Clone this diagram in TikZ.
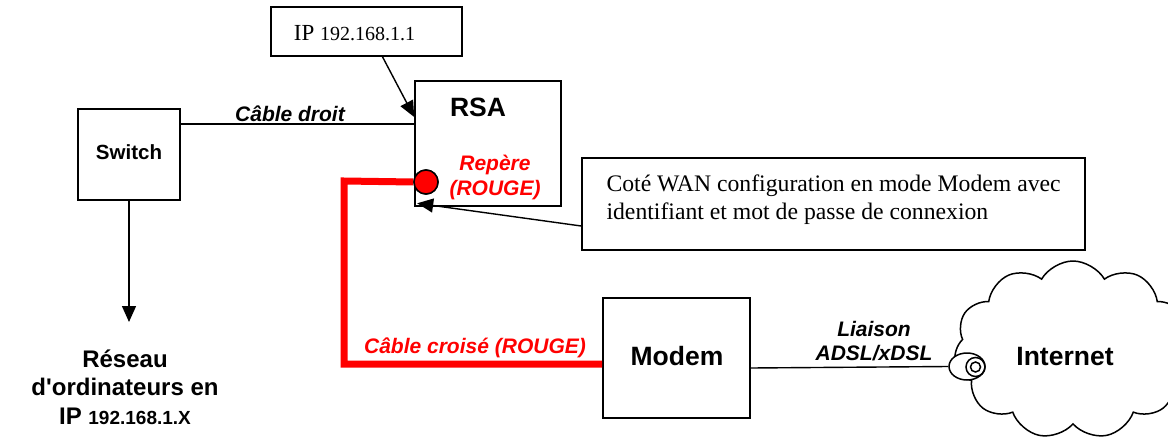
\documentclass[tikz,border=0pt]{standalone}
\usepackage{fontspec}
\setmainfont{Liberation Serif}
\setsansfont{Liberation Sans}
\usetikzlibrary{shapes.symbols,shapes.geometric,arrows.meta}

\definecolor{cable}{RGB}{255,0,0}

\tikzset{
  box/.style={draw, line width=1.6pt, fill=white, inner sep=0pt},
  arr/.style={line width=1.4pt, -{Triangle[length=16pt,width=14pt]}},
  wire/.style={line width=1.4pt},
  redwire/.style={draw=cable, line width=7pt},
  devname/.style={font=\sffamily\bfseries\fontsize{26.5}{30}\selectfont},
  linklabel/.style={font=\sffamily\bfseries\itshape\fontsize{21}{24.5}\selectfont, align=center},
  redlabel/.style={linklabel, text=cable},
  note/.style={font=\rmfamily\fontsize{23.7}{28}\selectfont, align=left}
}

\begin{document}
\begin{tikzpicture}[x=1pt,y=-1pt]
\useasboundingbox (0,0) rectangle (1168,439);

% equipment boxes
\node[box, minimum width=191pt, minimum height=49pt] (ip) at (366.5,31.5) {};
\node[font=\rmfamily, anchor=base] (iptext) at (354.5,40)
  {\fontsize{23}{26}\selectfont IP \fontsize{20}{24}\selectfont 192.168.1.1};
\node[box, minimum width=146pt, minimum height=125pt] (rsa) at (488,143.5) {};
\node[devname] (rsaname) at (478,107) {RSA};
\node[box, minimum width=102pt, minimum height=91pt] (switch) at (129,154.5) {};
\node[font=\sffamily\bfseries\fontsize{20.5}{24}\selectfont] (swname) at (129,152) {Switch};
\node[box, minimum width=503pt, minimum height=92pt] (wan) at (833.5,204) {};
% the base anchor of a multi-line node sits on its last line
\node[note, anchor=base west] (wantext) at (603,219)
  {Coté WAN configuration en mode Modem avec\\identifiant et mot de passe de connexion};
\node[box, minimum width=147pt, minimum height=120pt] (modem) at (676.5,358) {};
\node[devname] (modemname) at (677,356) {Modem};

% internet cloud and line connector
\node[cloud, draw, line width=1.5pt, cloud puffs=11, cloud puff arc=120, aspect=1.35,
      minimum width=238pt, minimum height=178pt] (cloud) at (1073,350) {};
\node[devname] (inetname) at (1065,357) {Internet};
\node[ellipse, draw, line width=1.5pt, fill=white, minimum width=36pt, minimum height=27pt,
      inner sep=0pt] (plug) at (967,366.5) {};
\node[circle, draw, line width=1.5pt, minimum size=19pt, inner sep=0pt] (plugouter) at (975.5,367) {};
\node[circle, draw, line width=1.5pt, minimum size=10pt, inner sep=0pt] (pluginner) at (975.5,367) {};

% straight cable switch - RSA
\draw[wire] ([yshift=30.5pt]switch.east) -- ([yshift=19.5pt]rsa.west);
\node[linklabel] (droitlbl) at (290,114) {Câble droit};

% annotation arrows
\draw[arr] ([xshift=16pt]ip.south) -- ([yshift=26.5pt]rsa.west);
\draw[arr] ([yshift=-22pt]wan.west) -- ([xshift=3pt,yshift=3.5pt]rsa.south west);

% local network
\coordinate (netend) at (129,322);
\draw[arr] (switch.south) -- (netend);
\node[font=\sffamily\bfseries\fontsize{24}{28.5}\selectfont, align=center, anchor=base] (lan) at (125,424)
  {Réseau\\d\textquotesingle ordinateurs en\\IP {\fontsize{19}{28.5}\selectfont 192.168.1.X}};

% crossed cable RSA - modem
\coordinate (bendtop) at (344,181);
\coordinate (bendlow) at (344,364);
\node[circle, draw, line width=1.5pt, fill=cable, minimum size=24pt, inner sep=0pt] (mark) at (426,182) {};
\draw[redwire] (mark.west) -- (bendtop) -- (bendlow) -- (bendlow -| modem.west);
\node[circle, draw, line width=1.5pt, fill=cable, minimum size=24pt, inner sep=0pt] at (mark) {};
\node[redlabel] (markname) at (495,177.5) {Repère\\(ROUGE)};
\node[redlabel] (croiselbl) at (475,348) {Câble croisé (ROUGE)};

% ADSL link modem - internet
\draw[wire] ([yshift=-10pt]modem.east) -- (plug.west);
\node[linklabel] (adsl) at (874,341) {Liaison\\ADSL/xDSL};
\end{tikzpicture}
\end{document}
